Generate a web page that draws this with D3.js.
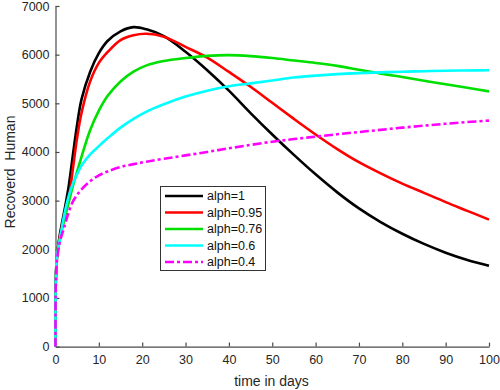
<!DOCTYPE html>
<html>
<head>
<meta charset="utf-8">
<script src="https://cdn.jsdelivr.net/npm/d3@7"></script>
<style>
  body { margin: 0; background: #fff; }
  svg { display: block; font-family: "Liberation Sans", Arial, sans-serif; }
</style>
</head>
<body>
<svg id="chart" width="500" height="390"></svg>
<script>
// time grid (days)
const days = [0, 0.1, 0.4, 1, 2, 3, 4, 5, 6, 8, 10, 12, 15, 18, 21, 25, 30, 35, 40, 45, 50, 55, 60, 65, 70, 75, 80, 85, 90, 95, 100]

const alph1 = [0, 1450, 1900, 2300, 2770, 3270, 3930, 4570, 5080, 5650, 6030, 6280, 6480, 6565, 6520, 6380, 6060, 5680, 5260, 4800, 4360, 3940, 3540, 3170, 2840, 2560, 2320, 2110, 1930, 1780, 1660]
const alph095 = [0, 1450, 1900, 2250, 2650, 3000, 3650, 4300, 4800, 5450, 5830, 6050, 6300, 6400, 6430, 6370, 6160, 5940, 5645, 5340, 5010, 4680, 4360, 4060, 3790, 3560, 3350, 3160, 2970, 2790, 2610]
const alph076 = [0, 1450, 1900, 2200, 2600, 2950, 3300, 3600, 3900, 4450, 4850, 5150, 5450, 5650, 5780, 5870, 5930, 5975, 5990, 5970, 5930, 5880, 5830, 5770, 5690, 5610, 5540, 5465, 5390, 5320, 5245]
const alph06 = [0, 1450, 1900, 2200, 2700, 3080, 3350, 3550, 3720, 3950, 4120, 4280, 4500, 4680, 4830, 4980, 5140, 5260, 5350, 5410, 5470, 5530, 5570, 5600, 5620, 5635, 5650, 5660, 5670, 5675, 5680]
const alph04 = [0, 1400, 1820, 2150, 2450, 2750, 2980, 3120, 3230, 3400, 3520, 3600, 3690, 3750, 3800, 3860, 3930, 4000, 4075, 4145, 4210, 4265, 4315, 4365, 4410, 4455, 4500, 4540, 4580, 4615, 4645]

const labels = ["alph=1", "alph=0.95", "alph=0.76", "alph=0.6", "alph=0.4"]
const colors = ["#000000", "#ff0000", "#00e000", "#00ffff", "#ff00ff"]
const xTicks = [0, 10, 20, 30, 40, 50, 60, 70, 80, 90, 100]
const yTicks = [0, 1000, 2000, 3000, 4000, 5000, 6000, 7000]

const series = [alph1, alph095, alph076, alph06, alph04].map((vals, i) => ({
    name: labels[i],
    color: colors[i],
    dash: i === 4 ? "9,3,3,3" : null,
    points: days.map((t, j) => [t, vals[j]])
}))

const svg = d3.select("#chart")

x = d3.scaleLinear().domain([0, 100]).range([55.5, 489])
y = d3.scaleLinear().domain([0, 7000]).range([346.6, 6])

// axes
const axisColor = "#4a4a4a"
const gx = svg.append("g")
    .attr("transform", `translate(0,${y(0)})`)
    .call(d3.axisBottom(x).tickValues(xTicks).tickFormat(d3.format("d"))
        .tickSizeInner(-4).tickSizeOuter(0).tickPadding(9))
const gy = svg.append("g")
    .attr("transform", `translate(${x(0)},0)`)
    .call(d3.axisLeft(y).tickValues(yTicks).tickFormat(d3.format("d"))
        .tickSizeInner(-4).tickSizeOuter(0).tickPadding(6))

for (const g of [gx, gy]) {
    g.select(".domain").attr("stroke", axisColor).attr("stroke-width", 1.2)
    g.selectAll(".tick line").attr("stroke", axisColor).attr("stroke-width", 1.2)
    g.selectAll(".tick text")
        .attr("fill", "#262626")
        .attr("font-size", 12.5)
        .attr("font-family", "Liberation Sans, Arial, sans-serif")
}

// lines
line = d3.line()
    .x(d => x(d[0]))
    .y(d => y(d[1]))
    .curve(d3.curveCatmullRom.alpha(0.5))

svg.append("g")
    .selectAll("path")
    .data(series)
    .join("path")
    .attr("fill", "none")
    .attr("stroke", d => d.color)
    .attr("stroke-width", 2.6)
    .attr("stroke-dasharray", d => d.dash)
    .attr("d", d => line(d.points))

// axis titles
svg.append("text")
    .attr("x", 271.5)
    .attr("y", 386)
    .attr("text-anchor", "middle")
    .attr("font-size", 14)
    .attr("fill", "#262626")
    .text("time in days")

svg.append("text")
    .attr("transform", "translate(15,172) rotate(-90)")
    .attr("text-anchor", "middle")
    .attr("font-size", 14)
    .attr("fill", "#262626")
    .style("white-space", "pre")
    .text("Recoverd  Human")

// legend
const legend = svg.append("g")
legend.append("rect")
    .attr("x", 160.5)
    .attr("y", 186.5)
    .attr("width", 105)
    .attr("height", 84)
    .attr("fill", "#fff")
    .attr("stroke", "#333")
    .attr("stroke-width", 1)

const item = legend.selectAll("g.item")
    .data(series)
    .join("g")
    .attr("class", "item")
    .attr("transform", (d, i) => `translate(0,${196 + i * 16.5})`)

item.append("line")
    .attr("x1", 165)
    .attr("x2", 203)
    .attr("stroke", d => d.color)
    .attr("stroke-width", 2.6)
    .attr("stroke-dasharray", d => d.dash)

item.append("text")
    .attr("x", 207)
    .attr("dy", "0.35em")
    .attr("font-size", 12.5)
    .attr("fill", "#111")
    .text(d => d.name)
</script>
</body>
</html>
